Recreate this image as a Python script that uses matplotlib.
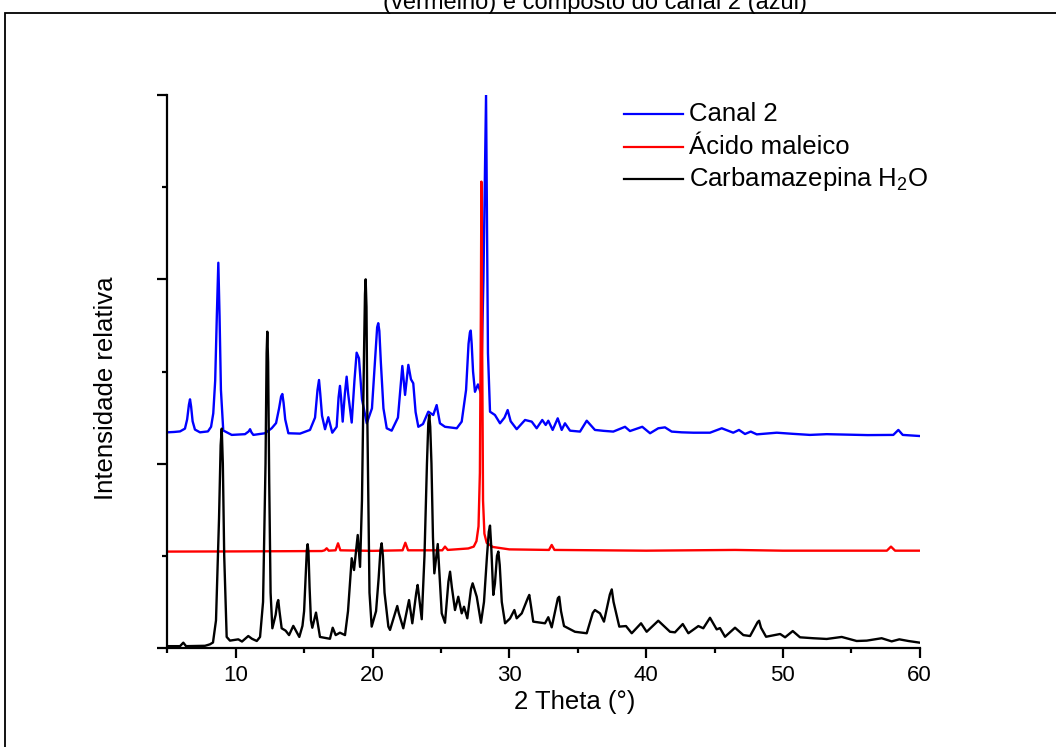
import numpy as np
import matplotlib
matplotlib.use("Agg")
import matplotlib.pyplot as plt
from matplotlib.lines import Line2D
from matplotlib.patches import Rectangle

plt.rcParams['font.family'] = ['Liberation Sans', 'DejaVu Sans']
plt.rcParams['mathtext.fontset'] = 'custom'
plt.rcParams['mathtext.rm'] = 'Liberation Sans'
plt.rcParams['mathtext.it'] = 'Liberation Sans'

# Diffractograms as (2theta, relative intensity) vertices, stacked with offsets
canal_2 = np.array([
    [5.00, 1.170], [5.50, 1.172], [5.93, 1.175], [6.29, 1.190], [6.45, 1.240],
    [6.58, 1.320], [6.66, 1.349], [6.74, 1.310], [6.85, 1.230], [7.02, 1.185],
    [7.39, 1.170], [7.97, 1.175], [8.20, 1.200], [8.36, 1.273], [8.50, 1.450],
    [8.62, 1.800], [8.73, 2.090], [8.82, 1.800], [8.92, 1.400], [9.09, 1.180],
    [9.71, 1.156], [10.68, 1.160], [10.95, 1.175], [11.05, 1.187], [11.15, 1.170],
    [11.29, 1.156], [12.14, 1.165], [12.63, 1.192], [12.95, 1.220], [13.17, 1.300],
    [13.32, 1.365], [13.41, 1.378], [13.50, 1.330], [13.62, 1.240], [13.85, 1.165],
    [14.70, 1.163], [15.43, 1.183], [15.80, 1.250], [15.98, 1.400], [16.09, 1.454],
    [16.18, 1.380], [16.31, 1.260], [16.53, 1.187], [16.77, 1.252], [17.06, 1.168],
    [17.38, 1.200], [17.52, 1.360], [17.62, 1.422], [17.70, 1.360], [17.82, 1.228],
    [17.98, 1.380], [18.11, 1.472], [18.22, 1.380], [18.48, 1.223], [18.68, 1.450],
    [18.84, 1.602], [19.01, 1.572], [19.23, 1.350], [19.58, 1.219], [19.96, 1.300],
    [20.22, 1.600], [20.34, 1.740], [20.42, 1.762], [20.50, 1.720], [20.61, 1.550],
    [20.80, 1.300], [21.04, 1.192], [21.40, 1.179], [21.86, 1.250], [22.05, 1.420],
    [22.18, 1.530], [22.38, 1.373], [22.62, 1.536], [22.81, 1.458], [22.98, 1.436],
    [23.15, 1.280], [23.35, 1.200], [23.69, 1.215], [24.08, 1.282], [24.44, 1.264],
    [24.69, 1.318], [24.93, 1.219], [25.30, 1.200], [25.70, 1.196], [26.16, 1.192],
    [26.52, 1.228], [26.84, 1.400], [27.02, 1.650], [27.12, 1.712], [27.18, 1.722],
    [27.25, 1.650], [27.35, 1.500], [27.49, 1.390], [27.71, 1.430], [27.93, 1.380],
    [28.11, 2.000], [28.30, 3.000], [28.44, 1.600], [28.59, 1.282], [28.95, 1.264],
    [29.32, 1.219], [29.65, 1.250], [29.88, 1.291], [30.10, 1.230], [30.54, 1.187],
    [31.15, 1.237], [31.64, 1.228], [32.00, 1.192], [32.41, 1.237], [32.66, 1.210],
    [32.85, 1.233], [33.17, 1.183], [33.54, 1.246], [33.83, 1.183], [34.07, 1.219],
    [34.44, 1.179], [35.17, 1.174], [35.66, 1.233], [36.26, 1.183], [36.90, 1.178],
    [37.60, 1.174], [38.46, 1.200], [38.82, 1.177], [39.72, 1.200], [40.29, 1.165],
    [40.89, 1.192], [41.38, 1.197], [41.87, 1.174], [42.60, 1.170], [43.45, 1.168],
    [44.67, 1.168], [45.53, 1.192], [46.37, 1.168], [46.79, 1.183], [47.23, 1.161],
    [47.65, 1.174], [48.09, 1.159], [49.55, 1.168], [50.70, 1.162], [51.98, 1.156],
    [53.20, 1.160], [54.42, 1.158], [56.20, 1.155], [58.07, 1.156], [58.44, 1.183],
    [58.76, 1.156], [60.00, 1.150],
])

acido_maleico = np.array([
    [5.00, 0.523], [10.00, 0.524], [16.30, 0.526], [16.50, 0.530], [16.65, 0.541],
    [16.80, 0.528], [17.30, 0.530], [17.48, 0.568], [17.65, 0.530], [20.00, 0.527],
    [22.20, 0.530], [22.40, 0.571], [22.60, 0.530], [25.10, 0.530], [25.30, 0.550],
    [25.50, 0.532], [27.00, 0.540], [27.40, 0.550], [27.60, 0.580], [27.75, 0.660],
    [27.85, 0.950], [27.92, 1.800], [27.96, 2.530], [28.02, 1.600], [28.08, 0.800],
    [28.18, 0.620], [28.35, 0.570], [28.80, 0.548], [30.00, 0.535], [32.90, 0.532],
    [33.10, 0.559], [33.30, 0.532], [40.00, 0.528], [46.50, 0.532], [50.00, 0.528],
    [57.60, 0.528], [57.90, 0.550], [58.20, 0.528], [60.00, 0.528],
])

carbamazepina_h2o = np.array([
    [5.00, 0.010], [5.93, 0.010], [6.17, 0.029], [6.37, 0.010], [7.76, 0.012],
    [8.12, 0.020], [8.34, 0.030], [8.56, 0.150], [8.78, 0.700], [8.90, 1.100],
    [8.98, 1.190], [9.06, 1.000], [9.16, 0.500], [9.34, 0.060], [9.58, 0.040],
    [10.19, 0.047], [10.46, 0.035], [10.92, 0.065], [11.19, 0.050], [11.54, 0.038],
    [11.78, 0.060], [12.00, 0.250], [12.18, 1.000], [12.26, 1.600], [12.31, 1.716],
    [12.37, 1.550], [12.45, 0.900], [12.55, 0.300], [12.68, 0.107], [12.92, 0.180],
    [13.04, 0.245], [13.11, 0.260], [13.20, 0.200], [13.36, 0.107], [13.65, 0.094],
    [13.90, 0.070], [14.21, 0.120], [14.65, 0.060], [14.88, 0.120], [15.00, 0.200],
    [15.12, 0.400], [15.20, 0.530], [15.26, 0.563], [15.32, 0.520], [15.40, 0.330],
    [15.50, 0.150], [15.60, 0.110], [15.87, 0.192], [16.16, 0.060], [16.89, 0.050],
    [17.09, 0.110], [17.31, 0.070], [17.62, 0.083], [17.99, 0.070], [18.21, 0.200],
    [18.48, 0.487], [18.65, 0.423], [18.92, 0.613], [19.09, 0.440], [19.23, 0.800],
    [19.38, 1.600], [19.45, 1.920], [19.50, 2.000], [19.56, 1.850], [19.63, 1.200],
    [19.78, 0.300], [19.94, 0.116], [20.26, 0.200], [20.45, 0.380], [20.58, 0.530],
    [20.67, 0.568], [20.76, 0.500], [20.88, 0.300], [21.16, 0.116], [21.28, 0.098],
    [21.70, 0.200], [21.81, 0.228], [21.92, 0.190], [22.25, 0.107], [22.67, 0.260],
    [22.91, 0.134], [23.20, 0.300], [23.30, 0.342], [23.40, 0.280], [23.60, 0.156],
    [23.80, 0.500], [23.98, 1.000], [24.08, 1.220], [24.15, 1.264], [24.22, 1.200],
    [24.31, 1.000], [24.42, 0.600], [24.52, 0.405], [24.77, 0.564], [25.06, 0.188],
    [25.30, 0.137], [25.55, 0.360], [25.67, 0.414], [25.80, 0.330], [26.03, 0.206],
    [26.27, 0.278], [26.52, 0.188], [26.69, 0.224], [26.93, 0.161], [27.20, 0.320],
    [27.32, 0.351], [27.62, 0.278], [27.93, 0.137], [28.15, 0.250], [28.37, 0.500],
    [28.50, 0.630], [28.59, 0.664], [28.68, 0.550], [28.83, 0.288], [28.95, 0.350],
    [29.10, 0.500], [29.20, 0.523], [29.30, 0.450], [29.45, 0.250], [29.69, 0.134],
    [30.05, 0.160], [30.37, 0.206], [30.54, 0.161], [30.91, 0.188], [31.35, 0.270],
    [31.46, 0.288], [31.58, 0.230], [31.75, 0.143], [32.61, 0.134], [32.85, 0.167],
    [33.10, 0.112], [33.41, 0.220], [33.55, 0.270], [33.65, 0.278], [33.78, 0.200],
    [34.00, 0.119], [34.80, 0.088], [35.66, 0.080], [36.10, 0.190], [36.26, 0.206],
    [36.63, 0.188], [36.92, 0.143], [37.35, 0.290], [37.49, 0.318], [37.62, 0.250],
    [38.04, 0.116], [38.53, 0.119], [38.95, 0.080], [39.63, 0.134], [40.04, 0.088],
    [40.89, 0.148], [41.75, 0.088], [42.11, 0.085], [42.68, 0.130], [43.09, 0.080],
    [43.82, 0.119], [44.18, 0.107], [44.67, 0.164], [45.16, 0.101], [45.40, 0.108],
    [45.77, 0.061], [46.50, 0.110], [47.11, 0.070], [47.60, 0.065], [48.15, 0.140],
    [48.26, 0.148], [48.40, 0.110], [48.77, 0.061], [49.80, 0.076], [50.16, 0.058],
    [50.72, 0.092], [51.25, 0.058], [52.22, 0.053], [53.20, 0.049], [54.30, 0.060],
    [55.39, 0.038], [56.13, 0.040], [57.22, 0.053], [57.95, 0.036], [58.51, 0.047],
    [59.17, 0.038], [60.00, 0.029],
])

series = [canal_2, acido_maleico, carbamazepina_h2o]
series_names = ["Canal 2", "Ácido maleico", "Carbamazepina H$_2$O"]
series_colors = ["#0000ff", "#ff0000", "#000000"]

x_major_ticks = [10, 20, 30, 40, 50, 60]
x_minor_ticks = [5, 15, 25, 35, 45, 55]
y_major_ticks = [0, 1, 2, 3]
y_minor_ticks = [0.5, 1.5, 2.5]

W, H = 1056, 747
fig = plt.figure(figsize=(W / 100, H / 100), dpi=100)
ax = fig.add_axes([167.3 / W, 1 - 648 / H, (919.7 - 167.3) / W, (648 - 95) / H])

for data, name, color in zip(series, series_names, series_colors):
    ax.plot(data[:, 0], data[:, 1], color=color, lw=1.7, label=name,
            solid_joinstyle='round')

ax.set_xlim(5, 60)
ax.set_ylim(0, 3)
for side in ("top", "right"):
    ax.spines[side].set_visible(False)
for side in ("left", "bottom"):
    ax.spines[side].set_linewidth(1.6)

ax.set_xticks(x_major_ticks)
ax.set_xticks(x_minor_ticks, minor=True)
ax.set_yticks(y_major_ticks)
ax.set_yticks(y_minor_ticks, minor=True)
ax.tick_params(axis='both', which='major', direction='out', length=7.5, width=1.6,
               labelsize=16, pad=5)
ax.tick_params(axis='both', which='minor', direction='out', length=3.8, width=1.6)
ax.tick_params(axis='y', labelleft=False)

ax.set_xlabel("2 Theta (°)", fontsize=18.5)
ax.set_ylabel("Intensidade relativa", fontsize=18.5)
ax.xaxis.set_label_coords((575 - 167.3) / (919.7 - 167.3), -(690 - 648) / (648 - 95))
ax.yaxis.set_label_coords(-(167.3 - 118) / (919.7 - 167.3), (648 - 388) / (648 - 95))

# Legend drawn as short line samples with labels
legend_rows = [114.3, 146.7, 178.7]
for row, name, color in zip(legend_rows, series_names, series_colors):
    yf = 1 - row / H
    fig.add_artist(Line2D([624.3 / W, 682.7 / W], [yf, yf], color=color, lw=1.6))
    fig.text(689 / W, yf, name, fontsize=18.5, va='center', ha='left')

# Figure frame and the caption line above it
fig.add_artist(Rectangle((5 / W, -0.05), 1.2, 1 - 13.3 / H + 0.05, fill=False,
                         lw=1.3, edgecolor='black', transform=fig.transFigure))
fig.text(595 / W, 1 - 9.5 / H, "(vermelho) e composto do canal 2 (azul)",
         fontsize=17, ha='center', va='baseline')

fig.savefig("out.png", dpi=100)
